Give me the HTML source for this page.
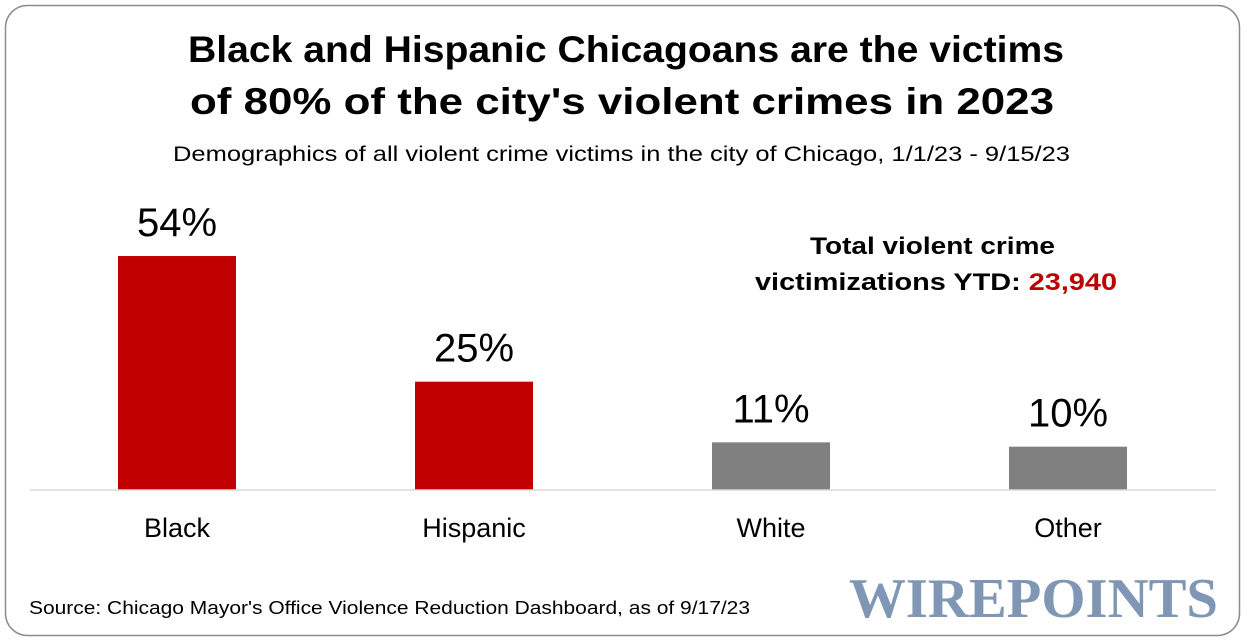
<!DOCTYPE html>
<html><head><meta charset="utf-8">
<style>
html,body{margin:0;padding:0;background:#fff;}
svg{display:block;font-family:"Liberation Sans",sans-serif;}
</style></head>
<body>
<svg id="chart" width="1245" height="641" viewBox="0 0 1245 641">
  <rect x="5.5" y="5.5" width="1234" height="630" rx="22" fill="#fff" stroke="#8c8c8c" stroke-width="1.5"/>
  <text x="188" y="62" font-size="37" font-weight="bold" fill="#000" textLength="876" lengthAdjust="spacingAndGlyphs">Black and Hispanic Chicagoans are the victims</text>
  <text x="190" y="114" font-size="37" font-weight="bold" fill="#000" textLength="864" lengthAdjust="spacingAndGlyphs">of 80% of the city's violent crimes in 2023</text>
  <text x="173" y="161" font-size="21" fill="#000" textLength="897" lengthAdjust="spacingAndGlyphs">Demographics of all violent crime victims in the city of Chicago, 1/1/23 - 9/15/23</text>
  <text x="810" y="254" font-size="24" font-weight="bold" fill="#000" textLength="245" lengthAdjust="spacingAndGlyphs">Total violent crime</text>
  <text x="755" y="290" font-size="24" font-weight="bold" fill="#000" textLength="362" lengthAdjust="spacingAndGlyphs">victimizations YTD: <tspan fill="#c00000">23,940</tspan></text>
  <g id="bars"></g>
  <line x1="30" y1="490" x2="1216" y2="490" stroke="#d9d9d9" stroke-width="1.5"/>
  <text x="29" y="614" font-size="18" fill="#000" textLength="721" lengthAdjust="spacingAndGlyphs">Source: Chicago Mayor's Office Violence Reduction Dashboard, as of 9/17/23</text>
  <text x="849" y="617" font-family="'Liberation Serif',serif" font-weight="bold" font-size="56" fill="#7f97b5" textLength="369" lengthAdjust="spacingAndGlyphs">WIREPOINTS</text>
</svg>
<script>
const categories = ["Black","Hispanic","White","Other"];
const values = [54, 25, 11, 10];
const valueLabels = ["54%","25%","11%","10%"];
const barColors = ["#c00000","#c00000","#808080","#808080"];

const baseY = 490, pxPerPct = 4.333;
function yScale(v){ return baseY - v*pxPerPct; }
function xCenter(i){ return 177 + i*297; }
const barW = 118;
const NS = "http://www.w3.org/2000/svg";
const g = document.getElementById("bars");
categories.forEach((c,i)=>{
  const r = document.createElementNS(NS,"rect");
  
  
  r.setAttribute("x", xCenter(i)-barW/2);
  r.setAttribute("y", yScale(values[i]));
  r.setAttribute("width", barW);
  r.setAttribute("height", baseY - yScale(values[i]));
  r.setAttribute("fill", barColors[i]);
  g.appendChild(r);
  const t = document.createElementNS(NS,"text");
  
  
  t.setAttribute("x", xCenter(i));
  t.setAttribute("y", yScale(values[i]) - 20);
  t.setAttribute("text-anchor","middle");
  t.setAttribute("font-size","40");
  t.textContent = valueLabels[i];
  g.appendChild(t);
  const l = document.createElementNS(NS,"text");
  
  
  l.setAttribute("x", xCenter(i));
  l.setAttribute("y", 537);
  l.setAttribute("text-anchor","middle");
  l.setAttribute("font-size","27");
  l.textContent = c;
  g.appendChild(l);
});
</script>
</body></html>
